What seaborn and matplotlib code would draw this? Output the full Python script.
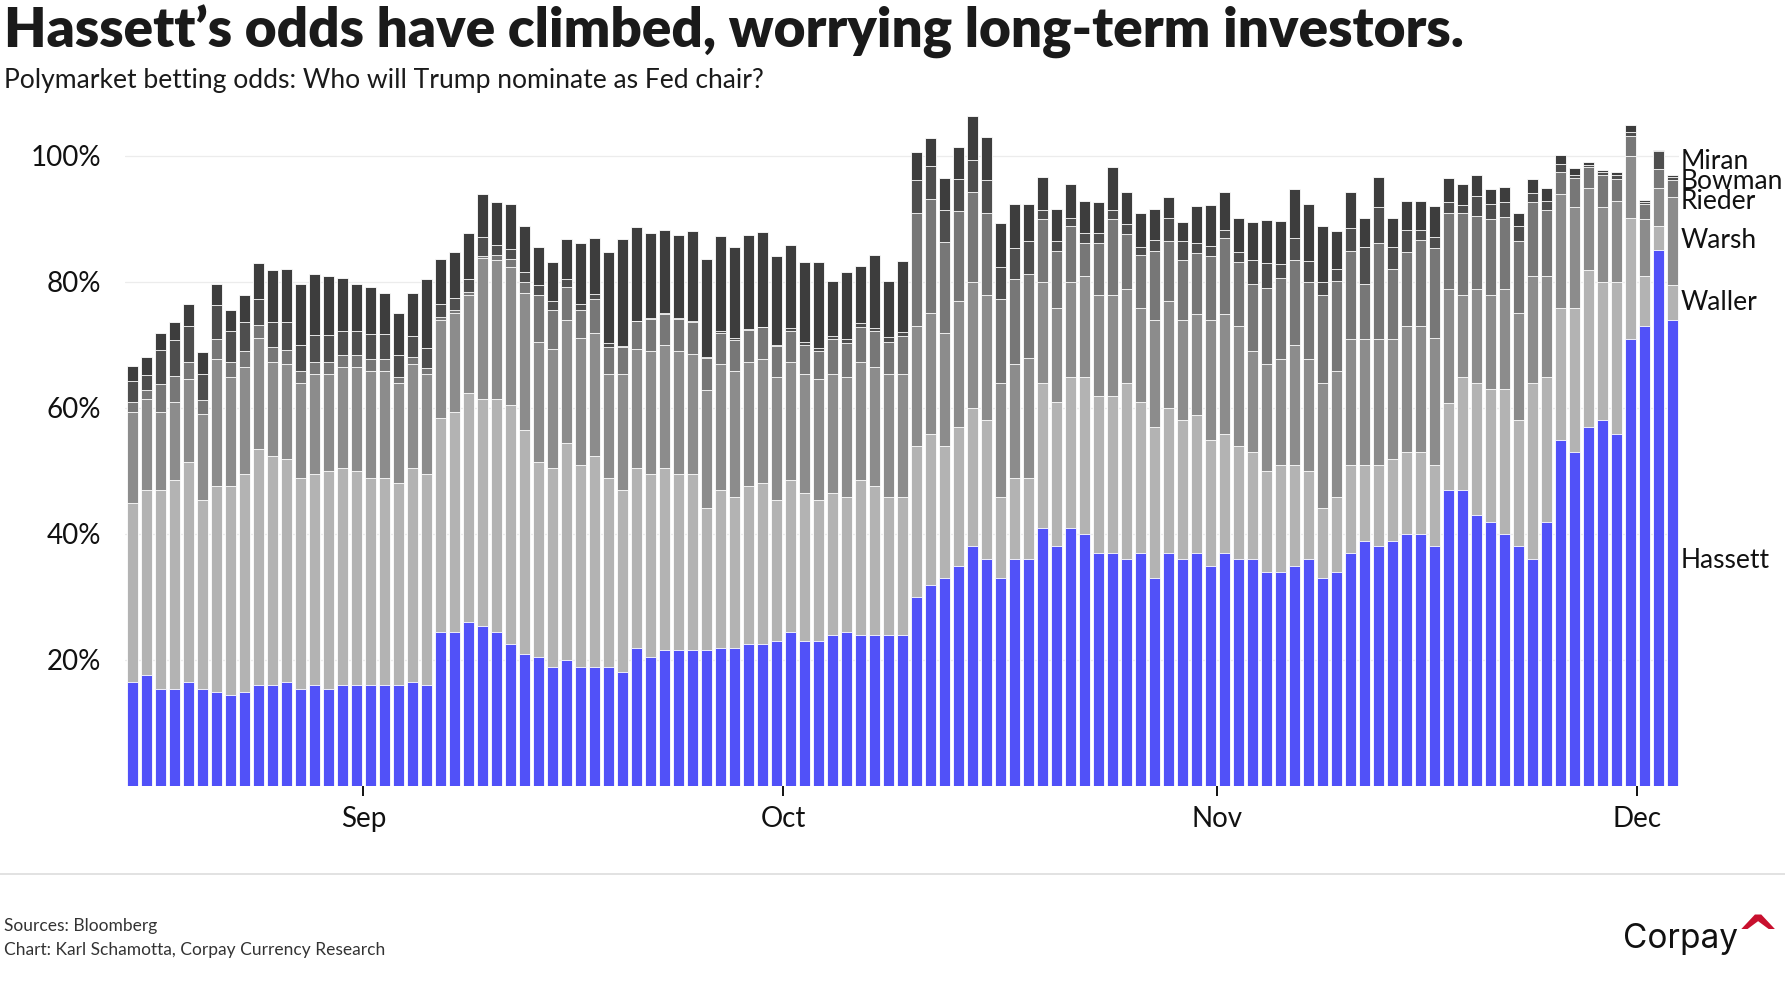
import numpy as np
import pandas as pd
import matplotlib
matplotlib.use("Agg")
import matplotlib.pyplot as plt
from matplotlib.lines import Line2D
import seaborn as sns

# ---------------- data ----------------
start_date = "2025-08-15"
end_date = "2025-12-03"

hassett = [16.5, 17.5, 15.4, 15.4, 16.5, 15.4, 14.9, 14.4, 14.9, 16.0,
           16.0, 16.5, 15.4, 16.0, 15.4, 16.0, 16.0, 16.0, 16.0, 16.0,
           16.5, 16.0, 24.4, 24.4, 25.9, 25.4, 24.4, 22.4, 20.9, 20.4,
           18.9, 19.9, 18.9, 18.9, 18.9, 18.0, 21.9, 20.4, 21.5, 21.5,
           21.5, 21.5, 21.9, 21.9, 22.4, 22.4, 22.9, 24.4, 22.9, 22.9,
           23.9, 24.4, 23.9, 23.9, 23.9, 23.9, 29.9, 31.9, 32.9, 34.9,
           38.0, 35.9, 32.9, 35.9, 35.9, 40.9, 38.0, 40.9, 39.9, 37.0,
           37.0, 35.9, 37.0, 32.9, 37.0, 35.9, 37.0, 34.9, 37.0, 35.9,
           35.9, 33.9, 33.9, 34.9, 35.9, 32.9, 33.9, 37.0, 38.9, 38.0,
           38.9, 39.9, 39.9, 38.0, 46.9, 46.9, 43.0, 41.9, 39.9, 38.0,
           35.9, 41.9, 54.9, 52.9, 56.9, 58.0, 55.9, 70.9, 72.9, 85.1,
           73.9]

waller = [28.4, 29.4, 31.5, 33.1, 34.9, 30.0, 32.6, 33.1, 34.6, 37.4,
          36.4, 35.4, 33.5, 33.5, 34.6, 34.4, 34.0, 32.9, 32.9, 32.0,
          33.9, 33.5, 34.0, 35.0, 36.5, 36.0, 37.0, 38.0, 35.5, 31.0,
          31.5, 34.5, 32.0, 33.5, 30.0, 28.9, 28.5, 29.1, 28.9, 28.0,
          28.0, 22.5, 25.0, 24.0, 25.1, 25.6, 22.5, 24.1, 23.5, 22.5,
          22.5, 21.5, 24.6, 23.6, 22.0, 22.0, 24.0, 24.0, 21.0, 22.0,
          21.9, 22.1, 13.0, 13.0, 13.0, 23.0, 22.9, 24.0, 25.0, 24.9,
          24.9, 28.0, 23.9, 24.0, 22.9, 22.1, 21.9, 20.0, 18.9, 18.0,
          17.0, 16.0, 17.0, 16.0, 14.0, 11.1, 12.0, 13.9, 12.0, 12.9,
          13.0, 13.0, 13.0, 12.9, 13.9, 18.0, 21.0, 21.0, 23.0, 20.0,
          28.1, 23.0, 21.0, 23.0, 25.0, 21.9, 24.0, 19.2, 8.0, 3.8,
          5.6]

warsh = [14.5, 14.5, 12.5, 12.4, 13.1, 13.6, 20.3, 17.4, 16.9, 17.6,
         14.9, 15.1, 15.1, 15.9, 15.4, 16.0, 16.4, 17.0, 17.0, 16.0,
         16.6, 15.9, 15.5, 15.7, 15.5, 22.4, 22.0, 22.0, 21.9, 19.0,
         19.0, 19.5, 20.1, 19.5, 16.5, 18.5, 19.0, 19.5, 19.5, 19.5,
         19.0, 18.8, 20.1, 20.0, 19.8, 19.8, 19.5, 18.8, 19.0, 19.1,
         19.0, 19.0, 18.8, 18.9, 19.5, 19.5, 19.0, 19.1, 18.0, 20.0,
         20.0, 19.9, 18.0, 18.1, 19.0, 16.0, 15.0, 15.0, 16.0, 16.0,
         16.0, 15.0, 15.0, 17.0, 17.0, 15.9, 16.0, 19.0, 19.0, 19.0,
         16.1, 17.0, 16.9, 19.0, 17.9, 19.9, 20.0, 20.0, 20.0, 20.0,
         19.0, 20.0, 20.0, 20.1, 18.1, 13.0, 14.9, 15.0, 16.0, 17.0,
         16.9, 16.0, 18.0, 16.0, 13.0, 12.0, 13.0, 9.9, 9.0, 6.0,
         14.0]

rieder = [1.5, 1.4, 4.3, 4.2, 2.7, 2.2, 3.1, 2.4, 2.6, 2.2,
          2.4, 2.2, 1.9, 1.9, 1.9, 1.9, 1.9, 1.9, 1.9, 0.9,
          1.0, 0.9, 0.5, 0.4, 0.5, 0.3, 0.8, 1.2, 1.6, 7.5,
          6.1, 5.2, 4.5, 5.3, 4.3, 4.3, 4.3, 5.1, 5.0, 5.1,
          5.1, 5.1, 4.9, 4.9, 5.1, 5.0, 4.9, 4.9, 4.6, 4.5,
          5.5, 5.4, 5.6, 5.8, 5.1, 6.0, 18.1, 18.2, 14.4, 14.4,
          14.4, 13.1, 13.4, 13.4, 13.4, 10.0, 9.0, 8.9, 5.2, 8.2,
          12.0, 8.7, 8.3, 11.0, 9.5, 9.6, 9.6, 10.2, 12.0, 10.2,
          10.6, 12.1, 12.8, 13.5, 12.1, 14.0, 14.2, 14.0, 8.7, 15.2,
          11.1, 11.9, 13.7, 14.3, 12.1, 13.1, 11.6, 12.1, 11.4, 11.4,
          11.8, 10.5, 3.6, 4.6, 3.3, 5.1, 3.4, 3.1, 2.4, 3.0,
          2.6]

bowman = [3.3, 2.4, 5.4, 5.6, 5.7, 4.2, 5.4, 4.9, 4.6, 4.1,
          3.9, 4.4, 4.1, 4.3, 4.3, 3.9, 3.9, 3.9, 3.9, 3.4,
          3.4, 3.2, 2.0, 1.9, 2.1, 3.0, 1.7, 1.6, 1.7, 1.6,
          1.5, 1.4, 1.0, 0.8, 0.6, 0.1, 0.1, 0.1, 0.1, 0.1,
          0.1, 0.1, 0.3, 0.3, 0.1, 0.1, 0.1, 0.5, 0.5, 0.5,
          0.5, 0.6, 0.5, 0.5, 0.7, 0.7, 5.2, 5.2, 5.1, 5.0,
          5.0, 5.1, 5.0, 4.9, 5.1, 1.5, 1.5, 1.4, 1.6, 1.7,
          1.5, 1.6, 1.4, 1.7, 3.8, 2.9, 1.6, 1.6, 1.4, 1.6,
          3.9, 4.0, 2.2, 3.5, 3.4, 2.0, 1.9, 3.7, 5.9, 5.8,
          3.5, 3.5, 1.7, 1.8, 1.7, 1.2, 3.2, 2.4, 2.4, 2.4,
          1.4, 1.5, 1.2, 0.5, 0.4, 0.5, 0.7, 0.7, 0.3, 2.8,
          0.5]

miran = [2.5, 2.9, 2.8, 2.9, 3.5, 3.4, 3.3, 3.3, 4.3, 5.7,
         8.2, 8.4, 9.6, 9.6, 9.3, 8.4, 7.4, 7.5, 6.5, 6.7,
         6.8, 10.9, 7.3, 7.3, 7.2, 6.8, 6.8, 7.1, 7.2, 6.1,
         6.2, 6.3, 9.6, 8.9, 14.4, 17.0, 14.9, 13.6, 13.3, 13.3,
         14.3, 15.6, 15.1, 14.5, 14.9, 15.0, 14.2, 13.1, 12.7, 13.6,
         8.8, 10.6, 9.1, 11.5, 9.0, 11.2, 4.4, 4.5, 5.1, 5.1,
         7.1, 6.9, 7.0, 7.0, 5.9, 5.2, 5.2, 5.3, 5.2, 4.9,
         6.8, 5.1, 5.3, 4.9, 3.3, 3.1, 5.9, 6.5, 6.0, 5.5,
         6.0, 6.8, 6.8, 7.9, 9.1, 8.9, 6.1, 5.7, 4.7, 4.8,
         4.7, 4.6, 4.6, 5.0, 3.8, 3.3, 3.3, 2.4, 2.4, 2.2,
         2.2, 2.0, 1.4, 1.1, 0.4, 0.3, 0.5, 1.1, 0.4, 0.3,
         0.3]

names = ["Hassett", "Waller", "Warsh", "Rieder", "Bowman", "Miran"]
colors = ["#5151F8", "#B3B3B3", "#8C8C8C", "#777777", "#4E4E4E", "#3D3D3D"]
month_labels = ["Sep", "Oct", "Nov", "Dec"]
y_ticks = [20, 40, 60, 80, 100]

title = "Hassett\u2019s odds have climbed, worrying long-term investors."
subtitle = "Polymarket betting odds: Who will Trump nominate as Fed chair?"
source1 = "Sources: Bloomberg"
source2 = "Chart: Karl Schamotta, Corpay Currency Research"

# ---------------- build frame ----------------
dates = pd.date_range(start_date, end_date, freq="D")
series = [hassett, waller, warsh, rieder, bowman, miran]
df = pd.DataFrame({n: s for n, s in zip(names, series)})
df["idx"] = np.arange(len(dates))
cum = df[names].cumsum(axis=1)

# ---------------- figure ----------------
sns.set_theme(style="white")
plt.rcParams["font.family"] = ["Lato", "DejaVu Sans"]

fig = plt.figure(figsize=(17.85, 10), dpi=100)
ax = fig.add_axes([0.0698, 0.2145, 0.8706, 0.680])

# stacked bars: draw cumulative totals from the top series down
for name, col in reversed(list(zip(names, colors))):
    sns.barplot(x=df["idx"], y=cum[name], color=col, saturation=1,
                width=0.8, edgecolor="white", linewidth=0.6,
                errorbar=None, ax=ax, zorder=2)

ax.set_xlim(-0.55, len(dates) - 0.55)
ax.set_ylim(0, 108)
ax.set_xlabel("")
ax.set_ylabel("")
for sp in ax.spines.values():
    sp.set_visible(False)

ax.set_yticks(y_ticks)
ax.set_yticklabels([f"{t}%" for t in y_ticks])
ax.yaxis.grid(True, color="#ececec", linewidth=0.9, zorder=0)
ax.set_axisbelow(True)
ax.tick_params(axis="y", length=0, pad=17, labelsize=20, labelcolor="#111111")

first_days = [i for i, d in enumerate(dates) if d.day == 1]
ax.set_xticks([i - 0.5 for i in first_days])
ax.set_xticklabels(month_labels)
ax.tick_params(axis="x", length=7, width=1.4, color="#111111", direction="out",
               pad=8, labelsize=20, labelcolor="#111111", bottom=True)

# right-hand series labels at the last bar, nudged apart
last = df[names].iloc[-1].values
tops = np.cumsum(last)
mids = tops - last / 2
pos = mids.copy()
gap = 3.2
for _ in range(200):
    for j in range(len(pos) - 1):
        if pos[j + 1] - pos[j] < gap:
            shift = (gap - (pos[j + 1] - pos[j])) / 2
            pos[j] -= shift
            pos[j + 1] += shift
pos[0] -= 1.2  # Hassett label sits a little below its segment centre
x_lab = len(dates) - 1 + 0.62
for n, p in zip(names, pos):
    ax.text(x_lab, p, n, ha="left", va="center", fontsize=19,
            color="#111111", clip_on=False)

# titles
fig.text(0.002, 0.952, title, fontsize=39.5, fontweight="heavy",
         color="#1a1a1a", ha="left", va="baseline")
fig.text(0.002, 0.912, subtitle, fontsize=19.1, color="#1a1a1a",
         ha="left", va="baseline")

# footer
fig.add_artist(Line2D([0, 1], [0.126, 0.126], transform=fig.transFigure,
                      color="#dddddd", linewidth=1.2))
fig.text(0.002, 0.0690, source1, fontsize=12.5, color="#333333",
         ha="left", va="baseline")
fig.text(0.002, 0.0450, source2, fontsize=12.5, color="#333333",
         ha="left", va="baseline")
fig.text(0.9095, 0.052, "Corpay", fontsize=24, color="#111111",
         ha="left", va="baseline", family=["Inter", "DejaVu Sans"])
fig.text(0.9725, 0.047, "^", fontsize=38, color="#C8102E", fontweight="bold",
         ha="left", va="baseline", family=["DejaVu Sans"])

fig.savefig("out.png", dpi=100, facecolor="white")
